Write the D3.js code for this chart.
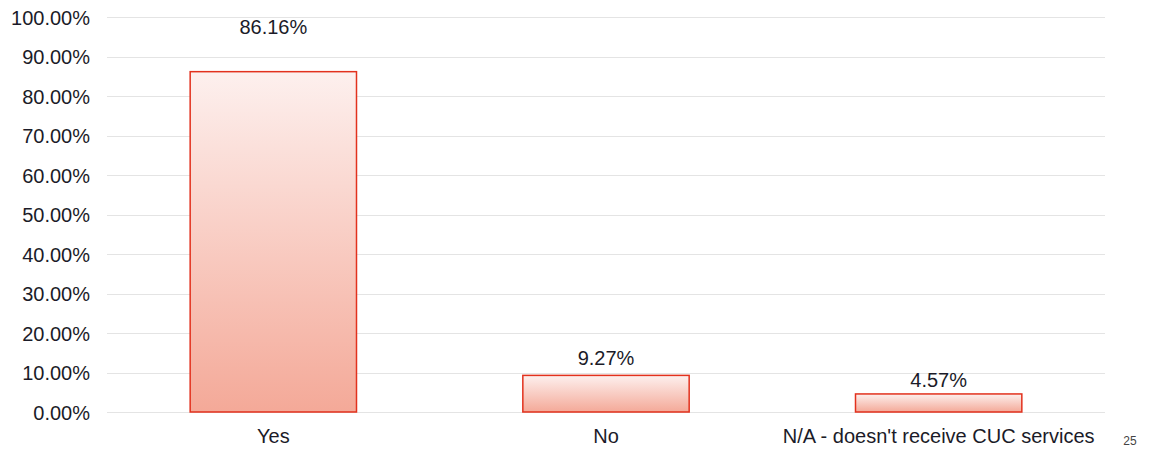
<!DOCTYPE html>
<html>
<head>
<meta charset="utf-8">
<script src="https://cdn.jsdelivr.net/npm/d3@7"></script>
<style>
  body { margin: 0; background: #fff; }
  svg text { font-family: "Liberation Sans", Arial, sans-serif; fill: #1b1b28; }
</style>
</head>
<body>
<svg id="chart"></svg>
<script>
const categories = ["Yes", "No", "N/A - doesn't receive CUC services"];
const values = [86.16, 9.27, 4.57];
const yTicks = [0, 10, 20, 30, 40, 50, 60, 70, 80, 90, 100];
const pageNumber = "25";

const width = 1160;
const height = 451;
const margin = { top: 17, right: 55, bottom: 39, left: 107 };
const fontSize = 20;

const svg = d3.select("#chart").attr("width", width).attr("height", height);

const x = d3.scaleBand()
  .domain(categories)
  .range([margin.left, width - margin.right])
  .paddingInner(0.5)
  .paddingOuter(0.25);

const y = d3.scaleLinear()
  .domain([0, 100])
  .range([height - margin.bottom, margin.top]);

// gradient fill, light at the top of each bar, salmon at the bottom
const defs = svg.append("defs");
const grad = defs.append("linearGradient")
  .attr("id", "barGrad")
  .attr("x1", 0).attr("y1", 0)
  .attr("x2", 0).attr("y2", 1);
grad.append("stop").attr("offset", "0%").attr("stop-color", "#fdf0ee");
grad.append("stop").attr("offset", "100%").attr("stop-color", "#f4a998");

// grid + y axis
const yAxis = svg.append("g")
  .attr("transform", `translate(${margin.left},0)`)
  .call(d3.axisLeft(y)
    .tickValues(yTicks)
    .tickSize(-(width - margin.right - margin.left))
    .tickPadding(17)
    .tickFormat(d => d.toFixed(2) + "%"));
yAxis.select(".domain").remove();
yAxis.selectAll(".tick line")
  .attr("stroke", "#e4e4e4")
  .attr("stroke-width", 1)
  .attr("shape-rendering", "crispEdges");
yAxis.selectAll(".tick text")
  .attr("font-size", fontSize)
  .attr("dy", "0.35em")
  .style("fill", "#1b1b28");

// bars
svg.selectAll("rect.bar")
  .data(values)
  .join("rect")
  .attr("class", "bar")
  .attr("x", (d, i) => x(categories[i]))
  .attr("width", x.bandwidth())
  .attr("y", d => y(d))
  .attr("height", d => y(0) - y(d))
  .attr("fill", "url(#barGrad)")
  .attr("stroke", "#e2311d")
  .attr("stroke-width", 1.5);

// value labels (first one sits higher, as in the original)
const labelGap = [38, 10, 7];
svg.selectAll("text.val")
  .data(values)
  .join("text")
  .attr("class", "val")
  .attr("x", (d, i) => x(categories[i]) + x.bandwidth() / 2)
  .attr("y", (d, i) => y(d) - labelGap[i])
  .attr("text-anchor", "middle")
  .attr("font-size", fontSize)
  .text(d => d.toFixed(2) + "%");

// x axis labels
const xAxis = svg.append("g")
  .attr("transform", `translate(0,${y(0)})`)
  .call(d3.axisBottom(x).tickSize(0).tickPadding(17));
xAxis.select(".domain").remove();
xAxis.selectAll(".tick text")
  .attr("font-size", fontSize)
  .style("fill", "#1b1b28");

// page number
svg.append("text")
  .attr("x", width - 30)
  .attr("y", y(0) + 33)
  .attr("text-anchor", "middle")
  .attr("font-size", 12)
  .style("fill", "#444")
  .text(pageNumber);
</script>
</body>
</html>
